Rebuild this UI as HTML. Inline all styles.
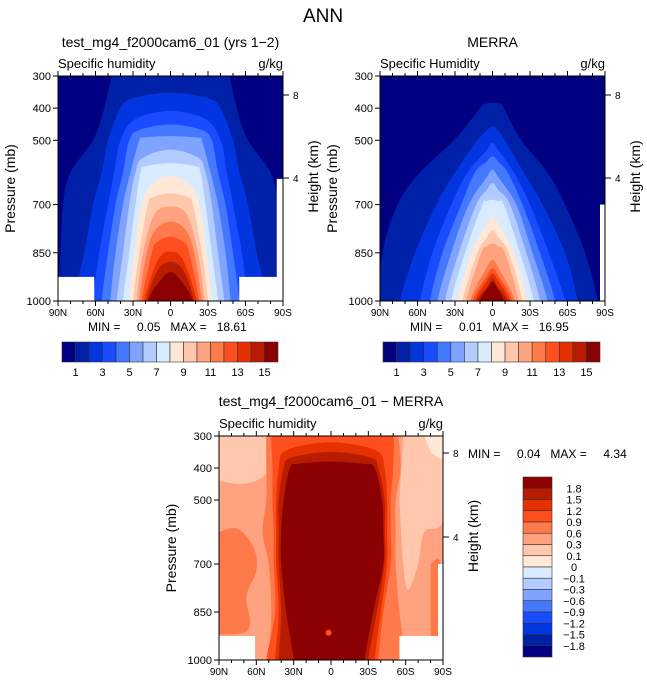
<!DOCTYPE html>
<html><head><meta charset="utf-8"><style>
body{margin:0;background:#fff;}
svg{display:block;font-family:"Liberation Sans",sans-serif;}
text{white-space:pre;}
</style></head><body>
<svg id="fig" width="647" height="684" viewBox="0 0 647 684" xmlns="http://www.w3.org/2000/svg">
<text x="323" y="22" font-size="19" text-anchor="middle">ANN</text>
</svg>
<script>
const palette=["#000080","#0020a8","#0035e0","#1a4cff","#4479ff","#7fa3ff","#b3ccff","#d8ebff","#ffe8d6","#ffc8ad","#ffa27f","#ff7a4a","#ff4f1f","#e53000","#b71c00","#8b0000"];
const P=[300,400,500,600,700,850,1000];
const latTicks=["90N","60N","30N","0","30S","60S","90S"];
const pTicks=[300,400,500,700,850,1000];
const fullLevelLabels=["1","3","5","7","9","11","13","15"];
const diffLevelLabels=["1.8","1.5","1.2","0.9","0.6","0.3","0.1","0","\u22120.1","\u22120.3","\u22120.6","\u22120.9","\u22121.2","\u22121.5","\u22121.8"];
const n=null;
const modelTop=[290,352,409,451,487,529,571,612,665,706,753,800,847,878,910];
const modelTopHw=[45,30,28,25,22,22,20,15,14,13,12,11,10,10,8];
const modelHw=[[47,53,62,80,86,88,90],[n,40,50,55,62,69,78],[n,n,40,45,50,57,62],[n,n,33,38,44,50,55],[n,n,25,32,38,44,48],[n,n,n,28,33,38,43],[n,n,n,24,28,33,38],[n,n,n,n,23,29,33],[n,n,n,n,18,25,30],[n,n,n,n,n,22,27],[n,n,n,n,n,19,25],[n,n,n,n,n,15,23],[n,n,n,n,n,n,21],[n,n,n,n,n,n,19],[n,n,n,n,n,n,18]];
const merraTop=[383,456,508,550,592,633,685,737,779,821,873,899,915,930,940];
const merraTopHw=[8,5,5,5,5,5,5,5,5,5,5,5,5,4,4];
const merraLeft=[[n,10,31,58,76,88,90],[n,n,12,30,45,62,74],[n,n,n,20,33,48,58],[n,n,n,14,25,40,50],[n,n,n,n,19,33,44],[n,n,n,n,13,27,38],[n,n,n,n,8,22,33],[n,n,n,n,n,17,28],[n,n,n,n,n,12,24],[n,n,n,n,n,9,21],[n,n,n,n,n,n,18],[n,n,n,n,n,n,16],[n,n,n,n,n,n,14],[n,n,n,n,n,n,12],[n,n,n,n,n,n,10]];
const merraRight=[[n,9,23,44,58,74,84],[n,n,10,25,40,58,68],[n,n,n,17,30,45,58],[n,n,n,12,24,38,50],[n,n,n,n,19,32,44],[n,n,n,n,14,27,38],[n,n,n,n,9,22,33],[n,n,n,n,n,17,28],[n,n,n,n,n,13,24],[n,n,n,n,n,10,21],[n,n,n,n,n,n,18],[n,n,n,n,n,n,16],[n,n,n,n,n,n,14],[n,n,n,n,n,n,12],[n,n,n,n,n,n,9]];
const diffLevels=[11,12,13,14,15];
const diffTop=[290,290,320,350,380];
const diffTopHw=[50,45,36,32,26];
const diffLeft=[[52,52,52,55,50,48,50],[48,47,47,46,46,45,52],[n,42,44,44,44,42,45],[n,38,42,42,42,40,42],[n,33,38,40,40,36,30]];
const diffRight=[[54,56,52,52,52,55,60],[50,50,48,48,48,42,38],[n,43,45,45,45,40,35],[n,38,43,43,43,37,30],[n,35,41,42,42,34,27]];
const diffPatchLevels=[9,11,9,8,11,14];
const diffPatches=[
 [[90,300],[50,300],[50,400],[60,440],[75,450],[90,440]],
 [[90,600],[75,590],[62,650],[60,720],[68,800],[65,880],[70,915],[90,920]],
 [[-58,300],[-90,300],[-90,560],[-75,600],[-70,700],[-62,780],[-58,700],[-55,500]],
 [[-75,300],[-90,300],[-90,370],[-80,350]],
 [[-80,700],[-88,700],[-88,925],[-80,925]],
 [[-9,1000],[-3,895],[5,900],[8,1000]]];
const modelMasks=[[90,61,925,1000],[-55,-90,925,1000],[-85,-90,620,925]];
const merraMasks=[[-86,-90,700,1000]];
const diffMasks=[[90,61,925,1000],[-55,-90,925,1000],[-86,-90,700,925]];

const NS="http://www.w3.org/2000/svg";
const svg=document.getElementById('fig');
function mk(tag,attrs,parent){const e=document.createElementNS(NS,tag);for(const k in attrs)e.setAttribute(k,attrs[k]);(parent||svg).appendChild(e);return e;}
function smooth(pts){
 let d='M'+pts[0][0].toFixed(1)+','+pts[0][1].toFixed(1);
 for(let i=0;i<pts.length-1;i++){
  const p0=pts[Math.max(0,i-1)],p1=pts[i],p2=pts[i+1],p3=pts[Math.min(pts.length-1,i+2)];
  const c1=[p1[0]+(p2[0]-p0[0])/6,p1[1]+(p2[1]-p0[1])/6];
  const c2=[p2[0]-(p3[0]-p1[0])/6,p2[1]-(p3[1]-p1[1])/6];
  d+=' C'+c1[0].toFixed(1)+','+c1[1].toFixed(1)+' '+c2[0].toFixed(1)+','+c2[1].toFixed(1)+' '+p2[0].toFixed(1)+','+p2[1].toFixed(1);
 }
 return d+'Z';
}
let clipId=0;
function panel(cfg){
 const {x0,y0,w,h}=cfg;
 const xs=lat=>x0+(90-lat)/180*w;
 const ys=p=>y0+(p-300)/700*h;
 const g=mk('g',{});
 
 
 const cid='c'+(clipId++);
 const cp=mk('clipPath',{id:cid},g);mk('rect',{x:x0,y:y0,width:w,height:h},cp);
 const plot=mk('g',{'clip-path':'url(#'+cid+')'},g);
 const bg=mk('rect',{x:x0,y:y0,width:w,height:h,fill:palette[cfg.base]},plot);
 
 
 (cfg.patches||[]).forEach((pts,i)=>{
  const poly=mk('path',{d:smooth(pts.map(q=>[xs(q[0]),ys(q[1])])),fill:palette[cfg.patchLevels[i]]},plot);
  
  
 });
 cfg.tops.forEach((top,k)=>{
  const L=cfg.left[k],R=cfg.right[k];
  const lp=[],rp=[];
  P.forEach((p,i)=>{if(p>top&&L[i]!=null){lp.push([L[i],p]);rp.push([R[i],p]);}});
  const pts=[];
  pts.push([xs(lp[lp.length-1][0]),ys(1080)]);
  for(let i=lp.length-1;i>=0;i--)pts.push([xs(lp[i][0]),ys(lp[i][1])]);
  const dp=Math.min(25,(lp[0][1]-top)*0.35);
  pts.push([xs(cfg.topHw[k]),ys(top+dp)]);
  pts.push([xs(0),ys(top)]);
  pts.push([xs(-cfg.topHw[k]),ys(top+dp)]);
  rp.forEach(q=>pts.push([xs(-q[0]),ys(q[1])]));
  pts.push([xs(-rp[rp.length-1][0]),ys(1080)]);
  const poly=mk('path',{d:smooth(pts),fill:palette[cfg.levels[k]]},plot);
  
  
 });
 (cfg.extra||[]).forEach(f=>f(plot,xs,ys));
 cfg.masks.forEach(m=>{
  const r=mk('rect',{x:xs(m[0]),y:ys(m[2]),width:xs(m[1])-xs(m[0]),height:ys(m[3])-ys(m[2]),fill:'#fff'},plot);
  
  
 });
 mk('rect',{x:x0,y:y0,width:w,height:h,fill:'none',stroke:'#000','stroke-width':1},g);
 for(let lat=90;lat>=-90;lat-=10){
  const x=xs(lat),len=(lat%30===0)?5:3;
  mk('line',{x1:x,y1:y0,x2:x,y2:y0-len,stroke:'#000'},g);
  mk('line',{x1:x,y1:y0+h,x2:x,y2:y0+h+len,stroke:'#000'},g);
 }
 latTicks.forEach((t,i)=>{
  const tx=mk('text',{x:x0+i*w/6,y:y0+h+15,'font-size':10,'text-anchor':'middle'},g);tx.textContent=t;
  
  
 });
 pTicks.forEach(p=>{
  const y=ys(p);
  mk('line',{x1:x0,y1:y,x2:x0-5,y2:y,stroke:'#000'},g);
  const tx=mk('text',{x:x0-7,y:y+4,'font-size':11,'text-anchor':'end'},g);tx.textContent=p;
  
  
 });
 [[8,cfg.h8],[4,cfg.h4]].forEach(a=>{
  mk('line',{x1:x0+w,y1:a[1],x2:x0+w+6,y2:a[1],stroke:'#000'},g);
  const tx=mk('text',{x:x0+w+10,y:a[1]+4,'font-size':10},g);tx.textContent=a[0];
  
  
 });
 const t1=mk('text',{x:x0+w/2,y:cfg.titleY,'font-size':14,'text-anchor':'middle'},g);t1.textContent=cfg.title;
 
 
 const t2=mk('text',{x:x0,y:y0-8,'font-size':13},g);t2.textContent=cfg.var;
 
 
 const t3=mk('text',{x:x0+w,y:y0-8,'font-size':13,'text-anchor':'end'},g);t3.textContent='g/kg';
 
 
 const ya=mk('text',{x:0,y:0,'font-size':14,'text-anchor':'middle',transform:'translate('+(x0-43)+','+(y0+h/2)+') rotate(-90)'},g);ya.textContent='Pressure (mb)';
 
 
 const ya2=mk('text',{x:0,y:0,'font-size':14,'text-anchor':'middle',transform:'translate('+(x0+w+35)+','+(y0+h/2-12)+') rotate(-90)'},g);ya2.textContent='Height (km)';
 
 
}
function hbar(x0,y0,w,h){
 const g=mk('g',{});
 
 
 const bw=w/16;
 palette.forEach((c,i)=>{const r=mk('rect',{x:x0+i*bw,y:y0,width:bw,height:h,fill:c,stroke:'#333','stroke-width':0.6},g);
  
  });
 fullLevelLabels.forEach((t,i)=>{const tx=mk('text',{x:x0+(1+2*i)*bw,y:y0+h+14,'font-size':11,'text-anchor':'middle'},g);tx.textContent=t;
  
  });
}
function label(x,y,txt,name,size,anchor){const t=mk('text',{x:x,y:y,'font-size':size||12,'text-anchor':anchor||'start'});t.textContent=txt;
 
 }

const idx=[1,2,3,4,5,6,7,8,9,10,11,12,13,14,15];
panel({name:'model-panel',x0:58,y0:76,w:225,h:225,base:0,tops:modelTop,topHw:modelTopHw,left:modelHw,right:modelHw,levels:idx,masks:modelMasks,h8:95,h4:178,title:'test_mg4_f2000cam6_01 (yrs 1\u22122)',titleY:47,var:'Specific humidity'});
panel({name:'merra-panel',x0:380,y0:76,w:225,h:225,base:0,tops:merraTop,topHw:merraTopHw,left:merraLeft,right:merraRight,levels:idx,masks:merraMasks,h8:95,h4:178,title:'MERRA',titleY:47,var:'Specific Humidity'});
panel({name:'difference-panel',x0:219,y0:436,w:224,h:224,base:10,patches:diffPatches,patchLevels:diffPatchLevels,tops:diffTop,topHw:diffTopHw,left:diffLeft,right:diffRight,levels:diffLevels,masks:diffMasks,h8:453,h4:537,title:'test_mg4_f2000cam6_01 \u2212 MERRA',titleY:406,var:'Specific humidity',
 extra:[(g,xs,ys)=>{const c=mk('circle',{cx:xs(2),cy:ys(915),r:3,fill:palette[12]},g);}]});
label(88,331,'MIN =     0.05   MAX =   18.61','model-min-max',12);
label(410,331,'MIN =     0.01   MAX =   16.95','merra-min-max',12);
label(468,458,'MIN =     0.04   MAX =     4.34','diff-min-max',12);
hbar(62,342,216,20);
hbar(383,342,217,20);
const vg=mk('g',{});


const vbh=180/16;
for(let i=0;i<16;i++){const r=mk('rect',{x:523,y:477+i*vbh,width:29,height:vbh,fill:palette[15-i],stroke:'#333','stroke-width':0.6},vg);
 
 }
diffLevelLabels.forEach((t,i)=>{const tx=mk('text',{x:574,y:477+(i+1)*vbh+4,'font-size':11,'text-anchor':'middle'},vg);tx.textContent=t;
 
 });
</script>
</body></html>
